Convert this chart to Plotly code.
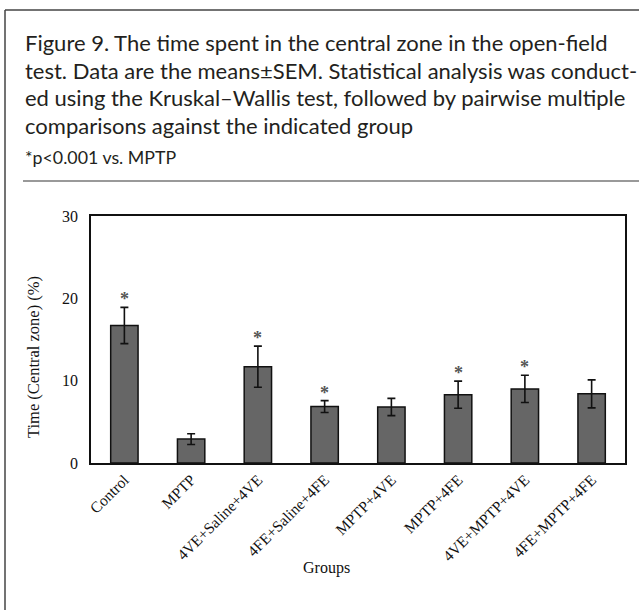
import plotly.graph_objects as go

groups = ["Control", "MPTP", "4VE+Saline+4VE", "4FE+Saline+4FE",
          "MPTP+4VE", "MPTP+4FE", "4VE+MPTP+4VE", "4FE+MPTP+4FE"]
means = [16.7, 2.9, 11.7, 6.85, 6.8, 8.3, 9.0, 8.4]
sems = [2.2, 0.65, 2.5, 0.72, 1.05, 1.65, 1.65, 1.7]
significant = [True, False, True, True, False, True, True, False]
y_ticks = [0, 10, 20, 30]

title_lines = [
    "Figure 9. The time spent in the central zone in the open-field",
    "test. Data are the means\u00b1SEM. Statistical analysis was conduct-",
    "ed using the Kruskal\u2013Wallis test, followed by pairwise multiple",
    "comparisons against the indicated group",
]
footnote = "*p<0.001 vs. MPTP"

W, H = 639, 610
ML, MR, MT, MB = 91, 14, 216, 147

fig = go.Figure()
fig.add_trace(go.Bar(
    x=groups, y=means,
    marker=dict(color="#666666", line=dict(color="#111111", width=1.5)),
    width=0.41,
    error_y=dict(type="data", array=sems, visible=True, color="#111111",
                 thickness=1.6, width=4),
    showlegend=False,
))

serif = "Liberation Serif, Times New Roman, serif"
sans = "Lato, Open Sans, sans-serif"

annotations = []
for g, m, s, sig in zip(groups, means, sems, significant):
    if sig:
        annotations.append(dict(x=g, y=m + s, xref="x", yref="y", text="<b>*</b>",
                                showarrow=False, yanchor="middle", yshift=8,
                                font=dict(family=serif, size=18, color="#555555")))

def px_to_paper_x(px):
    return (px - ML) / (W - ML - MR)

def px_to_paper_y(py):
    return (H - MB - py) / (H - MT - MB)

baselines = [52, 80, 107, 135]
for line, b in zip(title_lines, baselines):
    annotations.append(dict(x=px_to_paper_x(23), y=px_to_paper_y(b + 6), xref="paper", yref="paper",
                            text=line, showarrow=False, xanchor="left", yanchor="bottom",
                            font=dict(family=sans, size=22, color="#231f20")))
annotations.append(dict(x=px_to_paper_x(23), y=px_to_paper_y(165 + 5), xref="paper", yref="paper",
                        text=footnote, showarrow=False, xanchor="left", yanchor="bottom",
                        font=dict(family=sans, size=17.8, color="#231f20")))

annotations.append(dict(x=px_to_paper_x(326), y=px_to_paper_y(568), xref="paper", yref="paper",
                        text="Groups", showarrow=False, xanchor="center", yanchor="middle",
                        font=dict(family=serif, size=16, color="#111111")))
annotations.append(dict(x=px_to_paper_x(33), y=px_to_paper_y(357), xref="paper", yref="paper",
                        text="Time (Central zone) (%)", showarrow=False, textangle=-90,
                        xanchor="center", yanchor="middle",
                        font=dict(family=serif, size=16.5, color="#111111")))

shapes = [
    dict(type="line", xref="paper", yref="paper", x0=px_to_paper_x(5), x1=px_to_paper_x(640),
         y0=px_to_paper_y(10), y1=px_to_paper_y(10), line=dict(color="#444444", width=1.5)),
    dict(type="line", xref="paper", yref="paper", x0=px_to_paper_x(5), x1=px_to_paper_x(5),
         y0=px_to_paper_y(10), y1=px_to_paper_y(612), line=dict(color="#444444", width=1.5)),
    dict(type="line", xref="paper", yref="paper", x0=px_to_paper_x(23), x1=px_to_paper_x(640),
         y0=px_to_paper_y(181), y1=px_to_paper_y(181), line=dict(color="#777777", width=1.5)),
]

fig.update_layout(
    width=W, height=H,
    margin=dict(l=ML, r=MR, t=MT, b=MB, pad=0),
    paper_bgcolor="white", plot_bgcolor="white",
    annotations=annotations, shapes=shapes,
    bargap=0.59,
)
fig.update_xaxes(
    showline=True, linecolor="#111111", linewidth=1.5, mirror=True,
    tickangle=-45, ticks="", showgrid=False,
    tickfont=dict(family=serif, size=15.5, color="#111111"),
)
fig.update_yaxes(
    range=[0, 30], tickvals=y_ticks, showline=True, linecolor="#111111", linewidth=1.5,
    mirror=True, ticks="", showgrid=False, zeroline=False, ticklabelstandoff=8,
    tickfont=dict(family=serif, size=16, color="#111111"),
)

fig.write_html("out.html", config={"displayModeBar": False},
               post_script="document.body.style.margin='0';")
